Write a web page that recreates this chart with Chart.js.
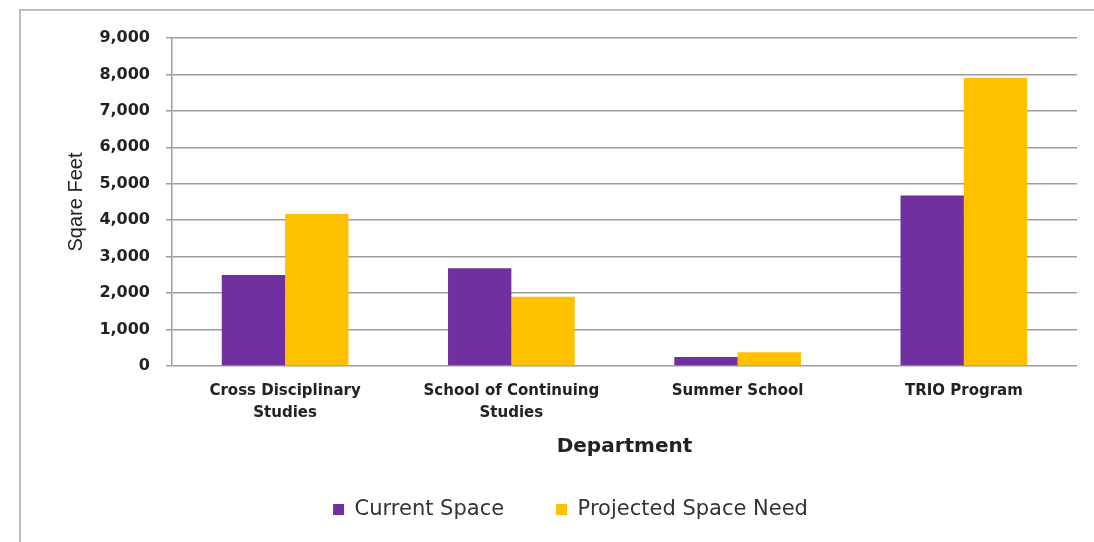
<!DOCTYPE html>
<html>
<head>
<meta charset="utf-8">
<script src="https://cdn.jsdelivr.net/npm/chart.js@4.4.1/dist/chart.umd.min.js"></script>
<style>
  html, body { margin: 0; padding: 0; background: #fff; }
  #wrap { position: relative; width: 1094px; height: 542px; }
</style>
</head>
<body>
<div id="wrap"><canvas id="spaceChart"></canvas></div>
<script>
// Data
const departments = [
  ["Cross Disciplinary", "Studies"],
  ["School of Continuing", "Studies"],
  "Summer School",
  "TRIO Program"
];
const currentSpace = [2500, 2680, 250, 4680];
const projectedSpace = [4170, 1900, 380, 7900];
const yTicks = [0, 1000, 2000, 3000, 4000, 5000, 6000, 7000, 8000, 9000];

const gridColor = "#9d9d9d";

// light grey frame round the chart, and legend nudged right like the original
const framePlugin = {
  id: "frame",
  beforeDraw(chart) {
    const ctx = chart.ctx;
    ctx.save();
    ctx.fillStyle = "#fff";
    ctx.fillRect(0, 0, chart.width, chart.height);
    ctx.strokeStyle = "#bdbdbd";
    ctx.lineWidth = 2;
    ctx.strokeRect(20, 10, 1200, 700);
    ctx.restore();
  },
  afterLayout(chart) {
    if (chart.legend) {
      chart.legend.left += 22;
      chart.legend.right += 22;
    }
  }
};

new Chart(document.getElementById("spaceChart"), {
  type: "bar",
  data: {
    labels: departments,
    datasets: [
      {
        label: "Current Space",
        data: currentSpace,
        backgroundColor: "#7030A0",
        categoryPercentage: 0.56,
        barPercentage: 1.0
      },
      {
        label: "Projected Space Need",
        data: projectedSpace,
        backgroundColor: "#FFC000",
        categoryPercentage: 0.56,
        barPercentage: 1.0
      }
    ]
  },
  options: {
    responsive: true,
    maintainAspectRatio: false,
    animation: false,
    layout: { padding: { left: 20, top: 38, right: 17, bottom: 12 } },
    plugins: {
      tooltip: { enabled: false },
      legend: {
        position: "bottom",
        labels: {
          color: "#333",
          font: { family: "DejaVu Sans", size: 21 },
          boxWidth: 11,
          boxHeight: 11,
          padding: 52
        }
      }
    },
    scales: {
      x: {
        grid: { display: false },
        border: { display: false },
        ticks: {
          color: "#222",
          padding: 6,
          maxRotation: 0,
          font: { family: "DejaVu Sans", size: 15, weight: "bold", lineHeight: 1.47 }
        },
        title: {
          display: true,
          text: "Department",
          color: "#222",
          font: { family: "DejaVu Sans", size: 20, weight: "bold" },
          padding: { top: 0, bottom: -12 }
        },
        afterFit(scale) { scale.height = 81; }
      },
      y: {
        min: 0,
        max: 9000,
        afterBuildTicks(scale) { scale.ticks = yTicks.map(v => ({ value: v })); },
        grid: { color: gridColor, lineWidth: 1.5, tickLength: 6 },
        border: { display: true, color: gridColor, width: 1.5 },
        ticks: {
          color: "#222",
          padding: 16,
          font: { family: "DejaVu Sans", size: 16, weight: "bold" },
          callback: v => v.toLocaleString("en-US")
        },
        title: {
          display: true,
          text: "Sqare Feet",
          color: "#222",
          font: { family: "Liberation Sans", size: 20 },
          padding: { top: 44, bottom: 0 }
        },
        afterFit(scale) { scale.width = 152; }
      }
    }
  },
  plugins: [framePlugin]
});
</script>
</body>
</html>
